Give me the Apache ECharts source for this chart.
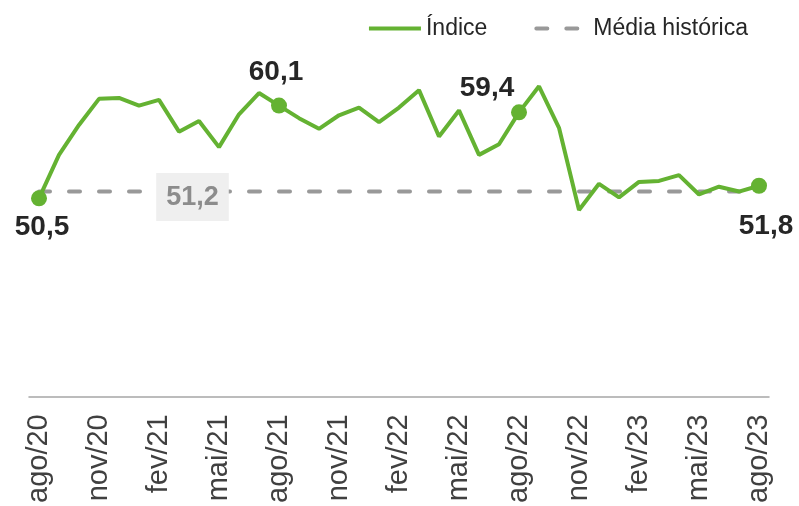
<!DOCTYPE html>
<html>
<head>
<meta charset="utf-8">
<script src="https://cdn.jsdelivr.net/npm/echarts@6/dist/echarts.min.js"></script>
<style>
html,body{margin:0;padding:0;background:#fff;}
#chart{width:799px;height:506px;}
</style>
</head>
<body>
<div id="chart"></div>
<script>
var categories = ['ago/20','set/20','out/20','nov/20','dez/20','jan/21','fev/21','mar/21','abr/21','mai/21','jun/21','jul/21',
  'ago/21','set/21','out/21','nov/21','dez/21','jan/22','fev/22','mar/22','abr/22','mai/22','jun/22','jul/22',
  'ago/22','set/22','out/22','nov/22','dez/22','jan/23','fev/23','mar/23','abr/23','mai/23','jun/23','jul/23','ago/23'];
var indice = [50.5,55.0,58.1,60.8,60.9,60.1,60.7,57.4,58.5,55.8,59.2,61.4,
  60.1,58.8,57.7,59.1,59.9,58.4,59.9,61.7,56.9,59.6,55.0,56.1,
  59.4,62.1,57.8,49.3,52.0,50.6,52.2,52.3,52.9,50.9,51.7,51.2,51.8];
var mediaHistorica = 51.2;
var highlightIdx = [0, 12, 24, 36];
var avgLabelIdx = 8;

function fmt(v){ return v.toFixed(1).replace('.', ','); }

var labelCfg = {
  0:  {position:'bottom', distance:7,  offset:[3,0]},
  12: {position:'top',    distance:11, offset:[-3,0]},
  24: {position:'top',    distance:2,  offset:[-32,0]},
  36: {position:'bottom', distance:19, offset:[7,0]}
};

var green = '#64b232';
var font = 'Liberation Sans, Arial, sans-serif';

var chart = echarts.init(document.getElementById('chart'));
chart.setOption({
  animation:false,
  grid:{left:29, right:30, top:10, bottom:108},
  legend:{
    data:['Índice','Média histórica'],
    right:46, top:12,
    itemWidth:52, itemHeight:14, itemGap:47,
    itemStyle:{opacity:0},
    lineStyle:{width:4},
    textStyle:{fontFamily:font, fontSize:23, color:'#262626'}
  },
  xAxis:{
    type:'category',
    data:categories,
    boundaryGap:true,
    axisLine:{lineStyle:{color:'#a6a6a6', width:1.5}},
    axisTick:{interval:2, length:8, lineStyle:{color:'#a6a6a6', width:1.5}},
    axisLabel:{interval:2, rotate:90, margin:18, fontFamily:font, fontSize:29, color:'#404040'}
  },
  yAxis:{type:'value', min:30, max:70, show:false, splitLine:{show:false}},
  series:[
    {
      name:'Média histórica', type:'line',
      data:categories.map(function(){return mediaHistorica;}),
      symbol:'none', z:2,
      lineStyle:{color:'#999999', width:4, type:[11,19], cap:'round'},
      itemStyle:{color:'#999999'}
    },
    {
      name:'Índice', type:'line', data:indice,
      symbol:'none', z:3,
      lineStyle:{color:green, width:4},
      itemStyle:{color:green}
    },
    {
      name:'pts', type:'scatter', z:4,
      symbolSize:16,
      itemStyle:{color:green, opacity:1},
      data:highlightIdx.map(function(i){
        var c = labelCfg[i];
        return {value:[i, indice[i]], label:{show:true, position:c.position, distance:c.distance, offset:c.offset,
          formatter:fmt(indice[i]), fontFamily:font, fontSize:28, fontWeight:'bold', color:'#262626'}};
      })
    },
    {
      name:'avgLabel', type:'scatter', z:5,
      symbolSize:1,
      itemStyle:{color:'#efefef', opacity:1},
      data:[{value:[avgLabelIdx, mediaHistorica], label:{show:true, position:'inside', offset:[-6.5,5.5],
        formatter:fmt(mediaHistorica), fontFamily:font, fontSize:27, fontWeight:'bold', color:'#8c8c8c',
        backgroundColor:'#efefef', padding:[10,10], lineHeight:28}}]
    }
  ]
});
</script>
</body>
</html>
